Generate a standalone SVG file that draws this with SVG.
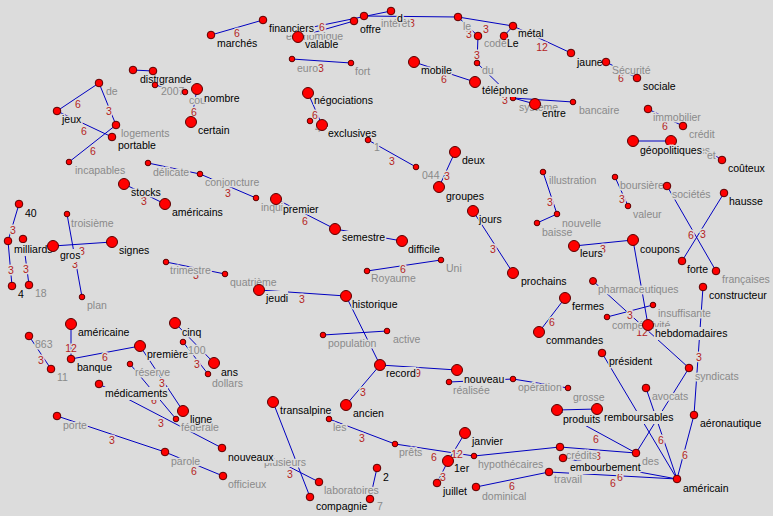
<svg xmlns="http://www.w3.org/2000/svg" width="773" height="516" viewBox="0 0 773 516">
<style>
text{font-family:"Liberation Sans",Arial,sans-serif;font-size:10.5px;paint-order:stroke;stroke:#dcdcdc;stroke-width:3px;stroke-linejoin:round}
.b{fill:#000}
.g{fill:#8a8a8a}
.w{fill:#b41e1e;text-anchor:middle}
circle{fill:#ff0000;stroke:#5a0000;stroke-width:1}
#edges line{stroke:#0000c0;stroke-width:1}
.bg{fill:#dcdcdc}
</style>
<rect width="773" height="516" fill="#dcdcdc"/>
<g id="edges">
<line x1="211" y1="35" x2="263" y2="20"/>
<line x1="313" y1="27" x2="391" y2="11"/>
<line x1="298" y1="37" x2="354" y2="21"/>
<line x1="364" y1="16" x2="458" y2="17"/>
<line x1="458" y1="17" x2="513" y2="26"/>
<line x1="458" y1="17" x2="478" y2="36"/>
<line x1="478" y1="36" x2="477" y2="63"/>
<line x1="477" y1="63" x2="513" y2="98"/>
<line x1="504" y1="36" x2="513" y2="26"/>
<line x1="513" y1="26" x2="571" y2="53"/>
<line x1="606" y1="62" x2="637" y2="78"/>
<line x1="513" y1="98" x2="573" y2="102"/>
<line x1="513" y1="98" x2="535" y2="104"/>
<line x1="414" y1="62" x2="475" y2="82"/>
<line x1="292" y1="59" x2="351" y2="63"/>
<line x1="308" y1="93" x2="322" y2="125"/>
<line x1="368" y1="140" x2="416" y2="167"/>
<line x1="455" y1="152" x2="439" y2="187"/>
<line x1="133" y1="70" x2="153" y2="71"/>
<line x1="155" y1="85" x2="185" y2="92"/>
<line x1="197" y1="89" x2="191" y2="122"/>
<line x1="99" y1="83" x2="57" y2="111"/>
<line x1="99" y1="83" x2="116" y2="125"/>
<line x1="57" y1="111" x2="112" y2="137"/>
<line x1="69" y1="162" x2="116" y2="125"/>
<line x1="148" y1="163" x2="200" y2="174"/>
<line x1="200" y1="174" x2="256" y2="198"/>
<line x1="124" y1="184" x2="165" y2="204"/>
<line x1="276" y1="199" x2="335" y2="229"/>
<line x1="335" y1="229" x2="402" y2="241"/>
<line x1="367" y1="271" x2="441" y2="260"/>
<line x1="166" y1="262" x2="225" y2="274"/>
<line x1="259" y1="290" x2="346" y2="296"/>
<line x1="346" y1="296" x2="380" y2="365"/>
<line x1="323" y1="335" x2="387" y2="331"/>
<line x1="19" y1="204" x2="8" y2="241"/>
<line x1="23" y1="239" x2="29" y2="285"/>
<line x1="8" y1="241" x2="12" y2="286"/>
<line x1="53" y1="246" x2="112" y2="242"/>
<line x1="67" y1="214" x2="82" y2="297"/>
<line x1="29" y1="336" x2="51" y2="369"/>
<line x1="71" y1="324" x2="71" y2="359"/>
<line x1="71" y1="359" x2="140" y2="346"/>
<line x1="175" y1="323" x2="214" y2="363"/>
<line x1="183" y1="342" x2="208" y2="374"/>
<line x1="140" y1="346" x2="183" y2="411"/>
<line x1="130" y1="364" x2="176" y2="419"/>
<line x1="99" y1="384" x2="222" y2="448"/>
<line x1="57" y1="416" x2="165" y2="452"/>
<line x1="165" y1="452" x2="223" y2="476"/>
<line x1="273" y1="402" x2="310" y2="497"/>
<line x1="272" y1="458" x2="319" y2="482"/>
<line x1="346" y1="405" x2="380" y2="365"/>
<line x1="329" y1="419" x2="395" y2="444"/>
<line x1="377" y1="468" x2="370" y2="499"/>
<line x1="380" y1="365" x2="457" y2="370"/>
<line x1="449" y1="382" x2="513" y2="379"/>
<line x1="513" y1="379" x2="568" y2="388"/>
<line x1="557" y1="410" x2="597" y2="409"/>
<line x1="465" y1="433" x2="448" y2="461"/>
<line x1="448" y1="461" x2="437" y2="483"/>
<line x1="395" y1="444" x2="474" y2="456"/>
<line x1="474" y1="456" x2="560" y2="447"/>
<line x1="476" y1="487" x2="549" y2="472"/>
<line x1="560" y1="447" x2="636" y2="453"/>
<line x1="549" y1="472" x2="677" y2="479"/>
<line x1="563" y1="458" x2="677" y2="479"/>
<line x1="602" y1="353" x2="677" y2="479"/>
<line x1="646" y1="388" x2="677" y2="479"/>
<line x1="689" y1="368" x2="636" y2="453"/>
<line x1="557" y1="410" x2="636" y2="453"/>
<line x1="694" y1="415" x2="677" y2="479"/>
<line x1="703" y1="287" x2="694" y2="415"/>
<line x1="593" y1="281" x2="689" y2="368"/>
<line x1="653" y1="305" x2="607" y2="317"/>
<line x1="633" y1="240" x2="648" y2="325"/>
<line x1="574" y1="246" x2="633" y2="240"/>
<line x1="565" y1="298" x2="539" y2="332"/>
<line x1="543" y1="172" x2="557" y2="214"/>
<line x1="537" y1="223" x2="557" y2="214"/>
<line x1="473" y1="211" x2="513" y2="273"/>
<line x1="615" y1="177" x2="628" y2="206"/>
<line x1="667" y1="186" x2="716" y2="271"/>
<line x1="724" y1="193" x2="682" y2="261"/>
<line x1="648" y1="109" x2="683" y2="126"/>
<line x1="638" y1="141" x2="671" y2="141"/>
<line x1="711" y1="153" x2="722" y2="160"/>
<g id="weights">
<text class="w" x="237" y="37">6</text>
<text class="w" x="322" y="31">6</text>
<text class="w" x="412" y="27">3</text>
<text class="w" x="486" y="33">3</text>
<text class="w" x="469" y="38">3</text>
<text class="w" x="477" y="59">3</text>
<text class="w" x="542" y="51">12</text>
<text class="w" x="621" y="82">6</text>
<text class="w" x="505" y="104">3</text>
<text class="w" x="444" y="83">6</text>
<text class="w" x="321" y="72">3</text>
<text class="w" x="315" y="119">6</text>
<text class="w" x="392" y="165">3</text>
<text class="w" x="447" y="180">3</text>
<text class="w" x="194" y="116">6</text>
<text class="w" x="78" y="108">6</text>
<text class="w" x="109" y="115">3</text>
<text class="w" x="84" y="135">6</text>
<text class="w" x="93" y="155">6</text>
<text class="w" x="228" y="197">3</text>
<text class="w" x="144" y="205">3</text>
<text class="w" x="305" y="225">6</text>
<text class="w" x="403" y="273">6</text>
<text class="w" x="196" y="279">3</text>
<text class="w" x="302" y="303">3</text>
<text class="w" x="13" y="234">3</text>
<text class="w" x="26" y="273">3</text>
<text class="w" x="11" y="274">3</text>
<text class="w" x="82" y="255">3</text>
<text class="w" x="75" y="268">3</text>
<text class="w" x="41" y="364">3</text>
<text class="w" x="71" y="352">12</text>
<text class="w" x="105" y="361">6</text>
<text class="w" x="197" y="368">3</text>
<text class="w" x="162" y="387">3</text>
<text class="w" x="154" y="404">6</text>
<text class="w" x="161" y="427">3</text>
<text class="w" x="112" y="444">3</text>
<text class="w" x="194" y="475">6</text>
<text class="w" x="290" y="478">3</text>
<text class="w" x="363" y="396">3</text>
<text class="w" x="362" y="442">3</text>
<text class="w" x="418" y="377">9</text>
<text class="w" x="457" y="458">12</text>
<text class="w" x="443" y="481">3</text>
<text class="w" x="434" y="461">6</text>
<text class="w" x="512" y="490">6</text>
<text class="w" x="598" y="460">3</text>
<text class="w" x="613" y="487">6</text>
<text class="w" x="620" y="481">6</text>
<text class="w" x="661" y="444">6</text>
<text class="w" x="596" y="443">6</text>
<text class="w" x="685" y="459">6</text>
<text class="w" x="699" y="361">3</text>
<text class="w" x="642" y="336">12</text>
<text class="w" x="630" y="319">3</text>
<text class="w" x="603" y="253">3</text>
<text class="w" x="552" y="326">6</text>
<text class="w" x="550" y="206">3</text>
<text class="w" x="493" y="253">3</text>
<text class="w" x="622" y="203">3</text>
<text class="w" x="691" y="239">6</text>
<text class="w" x="703" y="238">3</text>
<text class="w" x="665" y="130">6</text>
</g>
</g>
<g id="n-marches"><circle cx="211" cy="35" r="3.8"/><text class="b" x="217" y="47">marchés</text></g>
<g id="n-economique"><text class="g" x="286" y="40">économique</text></g>
<g id="n-financiers"><circle cx="263" cy="20" r="3.8"/><rect class="bg" x="268" y="22" width="46" height="13"/><text class="b" x="269" y="32">financiers</text></g>
<g id="n-valable"><circle cx="298" cy="37" r="5.5"/><text class="b" x="305" y="48">valable</text></g>
<g id="n-interets"><circle cx="364" cy="16" r="3.8"/><text class="g" x="381" y="27">intérêt</text></g>
<g id="n-offre"><circle cx="354" cy="21" r="3.8"/><text class="b" x="360" y="33">offre</text></g>
<g id="n-d"><circle cx="391" cy="11" r="3.8"/><text class="b" x="397" y="22">d</text></g>
<g id="n-le"><circle cx="458" cy="17" r="3.8"/><text class="g" x="463" y="30">le</text></g>
<g id="n-code"><circle cx="478" cy="36" r="3.8"/><text class="g" x="484" y="47">code</text></g>
<g id="n-Le"><circle cx="504" cy="36" r="3.8"/><text class="b" x="507" y="47">Le</text></g>
<g id="n-metal"><circle cx="513" cy="26" r="3.8"/><text class="b" x="518" y="37">métal</text></g>
<g id="n-jaune"><circle cx="571" cy="53" r="3.8"/><text class="b" x="577" y="66">jaune</text></g>
<g id="n-securite"><circle cx="606" cy="62" r="3.8"/><text class="g" x="612" y="74">Sécurité</text></g>
<g id="n-sociale"><circle cx="637" cy="78" r="3.8"/><text class="b" x="643" y="90">sociale</text></g>
<g id="n-du"><circle cx="477" cy="63" r="2.8"/><text class="g" x="482" y="74">du</text></g>
<g id="n-bancaire"><circle cx="573" cy="102" r="2.8"/><text class="g" x="579" y="114">bancaire</text></g>
<g id="n-systeme"><circle cx="513" cy="98" r="2.8"/><text class="g" x="519" y="111">système</text></g>
<g id="n-entre"><circle cx="535" cy="104" r="5.5"/><text class="b" x="542" y="117">entre</text></g>
<g id="n-mobile"><circle cx="414" cy="62" r="5.5"/><text class="b" x="421" y="74">mobile</text></g>
<g id="n-telephone"><circle cx="475" cy="82" r="5.5"/><rect class="bg" x="481" y="84" width="47" height="13"/><text class="b" x="482" y="94">téléphone</text></g>
<g id="n-euro"><circle cx="292" cy="59" r="2.8"/><text class="g" x="297" y="72">euro</text></g>
<g id="n-fort"><circle cx="351" cy="63" r="2.8"/><text class="g" x="355" y="75">fort</text></g>
<g id="n-negociations"><circle cx="308" cy="93" r="5.5"/><text class="b" x="314" y="104">négociations</text></g>
<g id="n-4b"><circle cx="310" cy="121" r="2.8"/><text class="g" x="315" y="132">4</text></g>
<g id="n-exclusives"><circle cx="322" cy="125" r="5.5"/><rect class="bg" x="327" y="127" width="50" height="13"/><text class="b" x="328" y="137">exclusives</text></g>
<g id="n-1"><circle cx="368" cy="140" r="2.8"/><text class="g" x="374" y="151">1</text></g>
<g id="n-044"><circle cx="416" cy="167" r="2.8"/><text class="g" x="422" y="179">044</text></g>
<g id="n-deux"><circle cx="455" cy="152" r="5.5"/><text class="b" x="462" y="164">deux</text></g>
<g id="n-groupes"><circle cx="439" cy="187" r="5.5"/><text class="b" x="446" y="200">groupes</text></g>
<g id="n-distr"><circle cx="133" cy="70" r="3.8"/><text class="b" x="140" y="83">distr</text></g>
<g id="n-2007"><circle cx="155" cy="85" r="2.8"/><text class="g" x="161" y="95">2007</text></g>
<g id="n-grande"><circle cx="153" cy="71" r="3.8"/><text class="b" x="159" y="83">grande</text></g>
<g id="n-cou"><circle cx="185" cy="92" r="2.8"/><text class="g" x="189" y="104">cou</text></g>
<g id="n-nombre"><circle cx="197" cy="89" r="5.5"/><text class="b" x="204" y="102">nombre</text></g>
<g id="n-certain"><circle cx="191" cy="122" r="5.5"/><text class="b" x="198" y="134">certain</text></g>
<g id="n-de"><circle cx="99" cy="83" r="3.8"/><text class="g" x="106" y="95">de</text></g>
<g id="n-jeux"><circle cx="57" cy="111" r="3.8"/><text class="b" x="62" y="123">jeux</text></g>
<g id="n-logements"><circle cx="116" cy="125" r="3.8"/><text class="g" x="121" y="137">logements</text></g>
<g id="n-portable"><circle cx="112" cy="137" r="3.8"/><text class="b" x="118" y="149">portable</text></g>
<g id="n-incapables"><circle cx="69" cy="162" r="2.8"/><text class="g" x="75" y="174">incapables</text></g>
<g id="n-delicate"><circle cx="148" cy="163" r="2.8"/><text class="g" x="153" y="176">délicate</text></g>
<g id="n-conjoncture"><circle cx="200" cy="174" r="2.8"/><text class="g" x="205" y="186">conjoncture</text></g>
<g id="n-inqui"><circle cx="256" cy="198" r="2.8"/><text class="g" x="261" y="211">inqui</text></g>
<g id="n-premier"><circle cx="276" cy="199" r="5.5"/><text class="b" x="283" y="213">premier</text></g>
<g id="n-semestre"><circle cx="335" cy="229" r="5.5"/><rect class="bg" x="341" y="231" width="45" height="13"/><text class="b" x="342" y="241">semestre</text></g>
<g id="n-difficile"><circle cx="402" cy="241" r="5.5"/><text class="b" x="408" y="253">difficile</text></g>
<g id="n-stocks"><circle cx="124" cy="184" r="5.5"/><text class="b" x="131" y="196">stocks</text></g>
<g id="n-americains"><circle cx="165" cy="204" r="5.5"/><text class="b" x="172" y="216">américains</text></g>
<g id="n-royaume"><circle cx="367" cy="271" r="2.8"/><text class="g" x="371" y="282">Royaume</text></g>
<g id="n-uni"><circle cx="441" cy="260" r="2.8"/><text class="g" x="446" y="272">Uni</text></g>
<g id="n-trimestre"><circle cx="166" cy="262" r="2.8"/><text class="g" x="170" y="274">trimestre</text></g>
<g id="n-quatrieme"><circle cx="225" cy="274" r="2.8"/><text class="g" x="230" y="286">quatrième</text></g>
<g id="n-jeudi"><circle cx="259" cy="290" r="5.5"/><rect class="bg" x="265" y="291" width="23" height="13"/><text class="b" x="266" y="302">jeudi</text></g>
<g id="n-historique"><circle cx="346" cy="296" r="5.5"/><text class="b" x="352" y="308">historique</text></g>
<g id="n-population"><circle cx="323" cy="335" r="2.8"/><text class="g" x="328" y="347">population</text></g>
<g id="n-active"><circle cx="387" cy="331" r="2.8"/><text class="g" x="393" y="343">active</text></g>
<g id="n-record"><circle cx="380" cy="365" r="5.5"/><rect class="bg" x="385" y="367" width="31" height="13"/><text class="b" x="386" y="377">record</text></g>
<g id="n-40"><circle cx="19" cy="204" r="3.8"/><text class="b" x="25" y="217">40</text></g>
<g id="n-x18src"><circle cx="23" cy="239" r="3.8"/></g>
<g id="n-milliards"><circle cx="8" cy="241" r="3.8"/><rect class="bg" x="13" y="243" width="40" height="13"/><text class="b" x="14" y="253">milliards</text></g>
<g id="n-18"><circle cx="29" cy="285" r="3.8"/><text class="g" x="35" y="297">18</text></g>
<g id="n-4"><circle cx="12" cy="286" r="3.8"/><text class="b" x="18" y="298">4</text></g>
<g id="n-troisieme"><circle cx="67" cy="214" r="2.8"/><text class="g" x="71" y="227">troisième</text></g>
<g id="n-gros"><circle cx="53" cy="246" r="5.5"/><rect class="bg" x="59" y="249" width="22" height="13"/><text class="b" x="60" y="259">gros</text></g>
<g id="n-signes"><circle cx="112" cy="242" r="5.5"/><text class="b" x="119" y="254">signes</text></g>
<g id="n-plan"><circle cx="82" cy="297" r="2.8"/><text class="g" x="87" y="309">plan</text></g>
<g id="n-863"><circle cx="29" cy="336" r="3.8"/><text class="g" x="35" y="348">863</text></g>
<g id="n-11"><circle cx="51" cy="369" r="3.8"/><text class="g" x="57" y="381">11</text></g>
<g id="n-americaine"><circle cx="71" cy="324" r="5.5"/><text class="b" x="78" y="336">américaine</text></g>
<g id="n-banque"><circle cx="71" cy="359" r="3.8"/><text class="b" x="77" y="371">banque</text></g>
<g id="n-premiere"><circle cx="140" cy="346" r="5.5"/><text class="b" x="147" y="358">première</text></g>
<g id="n-cinq"><circle cx="175" cy="323" r="5.5"/><text class="b" x="182" y="336">cinq</text></g>
<g id="n-100"><circle cx="183" cy="342" r="2.8"/><text class="g" x="188" y="354">100</text></g>
<g id="n-ans"><circle cx="214" cy="363" r="5.5"/><text class="b" x="221" y="376">ans</text></g>
<g id="n-dollars"><circle cx="208" cy="374" r="2.8"/><text class="g" x="212" y="387">dollars</text></g>
<g id="n-reserve"><circle cx="130" cy="364" r="2.8"/><text class="g" x="135" y="376">réserve</text></g>
<g id="n-medicaments"><circle cx="99" cy="384" r="3.8"/><rect class="bg" x="104" y="387" width="64" height="13"/><text class="b" x="105" y="397">médicaments</text></g>
<g id="n-federale"><circle cx="176" cy="419" r="2.8"/><text class="g" x="181" y="431">fédérale</text></g>
<g id="n-ligne"><circle cx="183" cy="411" r="5.5"/><text class="b" x="190" y="423">ligne</text></g>
<g id="n-porte"><circle cx="57" cy="416" r="3.8"/><text class="g" x="63" y="429">porte</text></g>
<g id="n-parole"><circle cx="165" cy="452" r="3.8"/><text class="g" x="171" y="465">parole</text></g>
<g id="n-plusieurs"><text class="g" x="264" y="466">plusieurs</text></g>
<g id="n-nouveaux"><circle cx="222" cy="448" r="3.8"/><rect class="bg" x="227" y="451" width="47" height="12"/><text class="b" x="228" y="461">nouveaux</text></g>
<g id="n-officieux"><circle cx="223" cy="476" r="3.8"/><text class="g" x="228" y="488">officieux</text></g>
<g id="n-laboratoires"><circle cx="319" cy="482" r="3.8"/><text class="g" x="324" y="494">laboratoires</text></g>
<g id="n-transalpine"><circle cx="273" cy="402" r="5.5"/><text class="b" x="280" y="414">transalpine</text></g>
<g id="n-compagnie"><circle cx="310" cy="497" r="3.8"/><text class="b" x="316" y="510">compagnie</text></g>
<g id="n-ancien"><circle cx="346" cy="405" r="5.5"/><text class="b" x="353" y="417">ancien</text></g>
<g id="n-les"><circle cx="329" cy="419" r="2.8"/><text class="g" x="333" y="431">les</text></g>
<g id="n-prets"><circle cx="395" cy="444" r="2.8"/><text class="g" x="399" y="456">prêts</text></g>
<g id="n-2"><circle cx="377" cy="468" r="3.8"/><text class="b" x="383" y="481">2</text></g>
<g id="n-7"><circle cx="370" cy="499" r="3.8"/><text class="g" x="377" y="510">7</text></g>
<g id="n-realisee"><circle cx="449" cy="382" r="2.8"/><text class="g" x="453" y="394">réalisée</text></g>
<g id="n-nouveau"><circle cx="457" cy="370" r="5.5"/><rect class="bg" x="463" y="373" width="42" height="13"/><text class="b" x="464" y="383">nouveau</text></g>
<g id="n-operation"><circle cx="513" cy="379" r="2.8"/><text class="g" x="518" y="391">opération</text></g>
<g id="n-grosse"><circle cx="568" cy="388" r="2.8"/><text class="g" x="573" y="401">grosse</text></g>
<g id="n-produits"><circle cx="557" cy="410" r="5.5"/><rect class="bg" x="562" y="413" width="39" height="13"/><text class="b" x="563" y="423">produits</text></g>
<g id="n-remboursables"><circle cx="597" cy="409" r="5.5"/><rect class="bg" x="603" y="411" width="70" height="13"/><text class="b" x="604" y="421">remboursables</text></g>
<g id="n-janvier"><circle cx="465" cy="433" r="5.5"/><text class="b" x="472" y="445">janvier</text></g>
<g id="n-1er"><circle cx="448" cy="461" r="5.5"/><text class="b" x="454" y="472">1er</text></g>
<g id="n-juillet"><circle cx="437" cy="483" r="3.8"/><text class="b" x="443" y="495">juillet</text></g>
<g id="n-hypothecaires"><circle cx="474" cy="456" r="2.8"/><text class="g" x="478" y="468">hypothécaires</text></g>
<g id="n-credits"><circle cx="560" cy="447" r="3.8"/><text class="g" x="566" y="459">crédits</text></g>
<g id="n-embourbement"><circle cx="563" cy="458" r="3.8"/><rect class="bg" x="569" y="461" width="71" height="13"/><text class="b" x="570" y="471">embourbement</text></g>
<g id="n-travail"><circle cx="549" cy="472" r="3.8"/><text class="g" x="554" y="483">travail</text></g>
<g id="n-dominical"><circle cx="476" cy="487" r="3.8"/><text class="g" x="482" y="500">dominical</text></g>
<g id="n-des"><circle cx="636" cy="453" r="3.8"/><text class="g" x="642" y="465">des</text></g>
<g id="n-americain"><circle cx="677" cy="479" r="3.8"/><text class="b" x="683" y="492">américain</text></g>
<g id="n-president"><circle cx="602" cy="353" r="3.8"/><text class="b" x="609" y="365">président</text></g>
<g id="n-avocats"><circle cx="646" cy="388" r="3.8"/><text class="g" x="652" y="400">avocats</text></g>
<g id="n-syndicats"><circle cx="689" cy="368" r="3.8"/><text class="g" x="695" y="380">syndicats</text></g>
<g id="n-aeronautique"><circle cx="694" cy="415" r="3.8"/><text class="b" x="700" y="427">aéronautique</text></g>
<g id="n-constructeur"><circle cx="703" cy="287" r="3.8"/><text class="b" x="709" y="299">constructeur</text></g>
<g id="n-illustration"><circle cx="543" cy="172" r="2.8"/><text class="g" x="549" y="184">illustration</text></g>
<g id="n-boursiere"><circle cx="615" cy="177" r="2.8"/><text class="g" x="620" y="189">boursière</text></g>
<g id="n-valeur"><circle cx="628" cy="206" r="2.8"/><text class="g" x="633" y="218">valeur</text></g>
<g id="n-societes"><circle cx="667" cy="186" r="3.8"/><text class="g" x="672" y="198">sociétés</text></g>
<g id="n-francaises"><circle cx="716" cy="271" r="3.8"/><text class="g" x="722" y="283">françaises</text></g>
<g id="n-hausse"><circle cx="724" cy="193" r="3.8"/><text class="b" x="729" y="205">hausse</text></g>
<g id="n-forte"><circle cx="682" cy="261" r="3.8"/><text class="b" x="687" y="273">forte</text></g>
<g id="n-coupons"><circle cx="633" cy="240" r="5.5"/><text class="b" x="640" y="253">coupons</text></g>
<g id="n-leurs"><circle cx="574" cy="246" r="5.5"/><text class="b" x="580" y="257">leurs</text></g>
<g id="n-pharmaceutiques"><circle cx="593" cy="281" r="3.5"/><text class="g" x="598" y="293">pharmaceutiques</text></g>
<g id="n-insuffisante"><circle cx="653" cy="305" r="2.8"/><text class="g" x="658" y="317">insuffisante</text></g>
<g id="n-competitivite"><circle cx="607" cy="317" r="2.8"/><text class="g" x="612" y="329">compétitivité</text></g>
<g id="n-hebdomadaires"><circle cx="648" cy="325" r="5.5"/><rect class="bg" x="654" y="327" width="73" height="13"/><text class="b" x="655" y="337">hebdomadaires</text></g>
<g id="n-fermes"><circle cx="565" cy="298" r="5.5"/><text class="b" x="572" y="310">fermes</text></g>
<g id="n-commandes"><circle cx="539" cy="332" r="5.5"/><text class="b" x="546" y="344">commandes</text></g>
<g id="n-nouvelle"><circle cx="557" cy="214" r="2.8"/><text class="g" x="562" y="227">nouvelle</text></g>
<g id="n-baisse"><circle cx="537" cy="223" r="2.8"/><text class="g" x="542" y="236">baisse</text></g>
<g id="n-jours"><circle cx="473" cy="211" r="5.5"/><text class="b" x="479" y="223">jours</text></g>
<g id="n-prochains"><circle cx="513" cy="273" r="5.5"/><text class="b" x="521" y="285">prochains</text></g>
<g id="n-immobilier"><circle cx="648" cy="109" r="3.8"/><text class="g" x="653" y="121">immobilier</text></g>
<g id="n-credit"><circle cx="683" cy="126" r="3.8"/><text class="g" x="689" y="138">crédit</text></g>
<g id="n-xes"><circle cx="671" cy="141" r="5.5"/><text class="g" x="699" y="154">es</text></g>
<g id="n-et"><text class="g" x="707" y="159">et</text></g>
<g id="n-geopolitiques"><circle cx="633" cy="141" r="5.5"/><rect class="bg" x="639" y="145" width="60" height="12"/><text class="b" x="640" y="154">géopolitiques</text></g>
<g id="n-couteux"><circle cx="722" cy="160" r="3.8"/><text class="b" x="728" y="172">coûteux</text></g>
</svg>
